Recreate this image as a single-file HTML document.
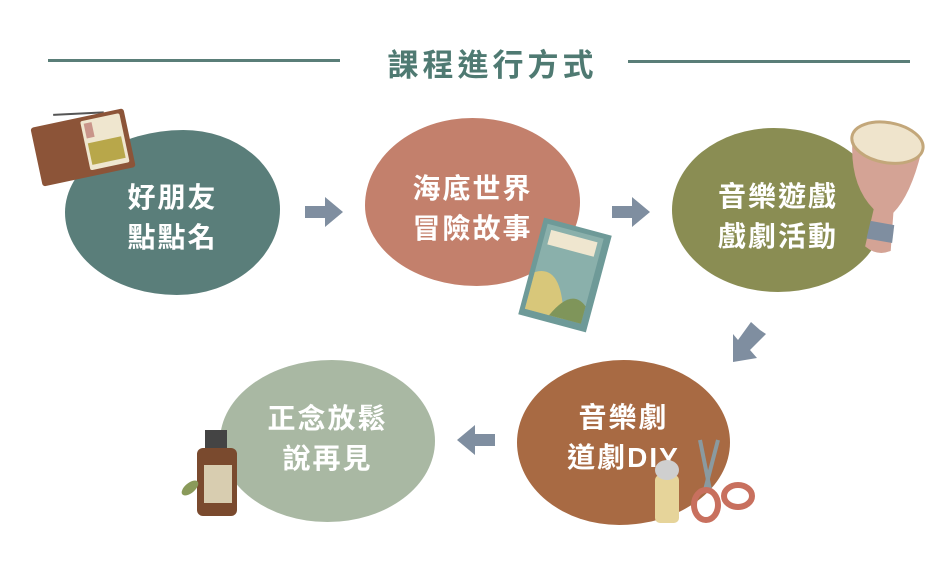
<!DOCTYPE html>
<html><head><meta charset="utf-8"><style>
body{margin:0;width:950px;height:576px;background:#fff;overflow:hidden;position:relative;font-family:"Liberation Sans","Noto Sans CJK TC",sans-serif}
.b{position:absolute;display:flex;align-items:center;justify-content:center;text-align:center;color:#fff;font-weight:bold;font-size:28px;line-height:40px;letter-spacing:2px;box-sizing:border-box}
.t{position:absolute;left:0;top:40px;width:985px;text-align:center;font-size:31px;font-weight:bold;color:#4f7a72;letter-spacing:4px}
.l{position:absolute;height:3px;background:#5a7e78}
</style></head><body>
<div class="l" style="left:48px;top:59px;width:292px"></div>
<div class="l" style="left:628px;top:60px;width:282px"></div>
<div class="t">課程進行方式</div>
<div class="b" style="left:65px;top:130px;width:215px;height:165px;background:#5a7e7a;border-radius:55% 45% 48% 52%/50% 48% 52% 50%;padding-top:10px">好朋友<br>點點名</div>
<div class="b" style="left:365px;top:118px;width:215px;height:168px;background:#c3806c;border-radius:50% 50% 48% 52%/52% 50% 50% 48%;padding-top:14px">海底世界<br>冒險故事</div>
<div class="b" style="left:672px;top:128px;width:212px;height:164px;background:#8a8d53;border-radius:48% 52% 50% 50%/50% 52% 48% 50%;padding-top:14px">音樂遊戲<br>戲劇活動</div>
<div class="b" style="left:517px;top:360px;width:213px;height:165px;background:#a86a43;border-radius:50% 50% 52% 48%/50% 50% 50% 50%;padding-bottom:10px">音樂劇<br>道劇DIY</div>
<div class="b" style="left:220px;top:360px;width:215px;height:162px;background:#a9b8a3;border-radius:52% 48% 50% 50%/50% 50% 50% 50%;padding-bottom:4px">正念放鬆<br>說再見</div>
<svg width="950" height="576" style="position:absolute;left:0;top:0">
<g fill="#7f8ea0">
<polygon points="305,206 325,206 325,197 343,212 325,227 325,218 305,218"/>
<polygon points="612,206 632,206 632,197 650,212 632,227 632,218 612,218"/>
<polygon points="495,434 475,434 475,425 457,440 475,455 475,446 495,446"/>
<polygon points="760,330 751,322 738,340 733,334 733,362 757,358 750,350 766,334"/>
</g>
<g transform="rotate(-12 80 145)">
<line x1="60" y1="110" x2="110" y2="118" stroke="#555" stroke-width="2"/>
<rect x="35" y="118" width="95" height="60" rx="3" fill="#8c5438"/>
<rect x="85" y="122" width="40" height="50" rx="2" fill="#efe6cf"/>
<rect x="88" y="145" width="34" height="22" fill="#b8a74a"/>
<rect x="88" y="125" width="8" height="15" fill="#c9958a"/>
</g>
<g transform="rotate(15 565 275)">
<rect x="530" y="225" width="70" height="100" fill="#6e9a98"/>
<rect x="535" y="230" width="58" height="88" fill="#8ab0ab"/>
<rect x="540" y="235" width="48" height="15" fill="#efe6cf"/>
<path d="M535 280 Q560 265 575 318 L535 318Z" fill="#d8c77a"/>
<path d="M560 318 Q575 285 593 300 L593 318Z" fill="#7f955a"/>
</g>
<g transform="rotate(10 880 185)">
<path d="M845 145 L915 145 Q912 190 898 210 L902 248 Q890 256 876 248 L878 210 Q850 190 845 145Z" fill="#d4a395"/>
<path d="M877 222 L901 222 L902 240 L876 240Z" fill="#7f8ea0"/>
<ellipse cx="880" cy="142" rx="36" ry="20" fill="#efe4cc" stroke="#c3a77a" stroke-width="3"/>
</g>
<rect x="205" y="430" width="22" height="20" fill="#444"/>
<rect x="197" y="448" width="40" height="68" rx="6" fill="#7a4a2e"/>
<rect x="204" y="465" width="28" height="38" fill="#d8cdb0"/>
<ellipse cx="190" cy="488" rx="10" ry="5" fill="#8a9a5a" transform="rotate(-40 190 488)"/>
<rect x="655" y="475" width="24" height="48" rx="5" fill="#e6d49a"/>
<ellipse cx="667" cy="470" rx="12" ry="10" fill="#cfcfcf"/>
<line x1="700" y1="440" x2="710" y2="490" stroke="#8a9aa0" stroke-width="4"/>
<line x1="718" y1="440" x2="705" y2="490" stroke="#8a9aa0" stroke-width="4"/>
<ellipse cx="706" cy="505" rx="12" ry="15" fill="none" stroke="#c8705e" stroke-width="6"/>
<ellipse cx="738" cy="496" rx="14" ry="11" fill="none" stroke="#c8705e" stroke-width="6"/>
</svg>
</body></html>
